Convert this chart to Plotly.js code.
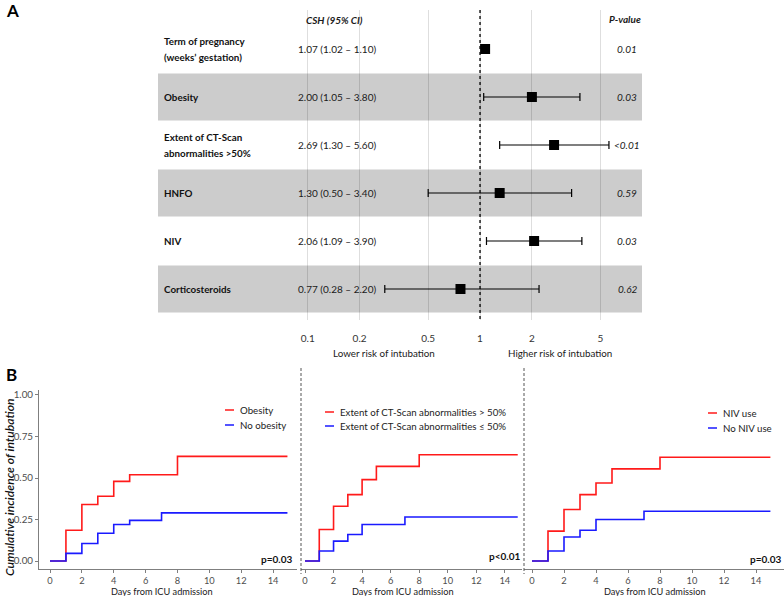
<!DOCTYPE html>
<html>
<head>
<meta charset="utf-8">
<script src="https://cdn.plot.ly/plotly-3.0.1.min.js"></script>
<style>html,body{margin:0;padding:0;background:#fff;}#chart{width:784px;height:596px;}</style>
</head>
<body>
<div id="chart"></div>
<script>
// ---------- Panel A data ----------
const rowLabels = ["Term of pregnancy<br>(weeks’ gestation)", "Obesity", "Extent of CT-Scan<br>abnormalities >50%", "HNFO", "NIV", "Corticosteroids"];
const hr = [1.07, 2.00, 2.69, 1.30, 2.06, 0.77];
const ciLow = [1.02, 1.05, 1.30, 0.50, 1.09, 0.28];
const ciHigh = [1.10, 3.80, 5.60, 3.40, 3.90, 2.20];
const pValues = ["0.01", "0.03", "<0.01", "0.59", "0.03", "0.62"];
const shadedRows = [1, 3, 5];
const forestTicks = [0.1, 0.2, 0.5, 1, 2, 5];

// ---------- Panel B data ----------
const obesityDays = [0, 1, 2, 3, 4, 5, 8, 14.9];
const obesityInc = [0, 0.185, 0.34, 0.39, 0.48, 0.52, 0.63, 0.63];
const noObesityDays = [0, 1, 2, 3, 4, 5, 7, 14.9];
const noObesityInc = [0, 0.046, 0.106, 0.167, 0.22, 0.245, 0.29, 0.29];

const ctHighDays = [0, 1, 2, 3, 4, 5, 8, 14.9];
const ctHighInc = [0, 0.19, 0.33, 0.40, 0.49, 0.57, 0.64, 0.64];
const ctLowDays = [0, 1, 2, 3, 4, 7, 14.9];
const ctLowInc = [0, 0.06, 0.12, 0.16, 0.22, 0.265, 0.265];

const nivDays = [0, 1, 2, 3, 4, 5, 8, 14.9];
const nivInc = [0, 0.18, 0.31, 0.40, 0.47, 0.555, 0.625, 0.625];
const noNivDays = [0, 1, 2, 3, 4, 7, 14.9];
const noNivInc = [0, 0.06, 0.145, 0.185, 0.25, 0.30, 0.30];

const panelLegends = [
  ["Obesity", "No obesity"],
  ["Extent of CT-Scan abnormalities > 50%", "Extent of CT-Scan abnormalities ≤ 50%"],
  ["NIV use", "No NIV use"]
];
const panelP = ["p=0.03", "p<0.01", "p=0.03"];
const dayTicks = [0, 2, 4, 6, 8, 10, 12, 14];
const incTicks = [0, 0.25, 0.5, 0.75, 1];

// ---------- helpers ----------
const W = 784, H = 596;
const px = x => x / W;
const py = y => 1 - y / H;
const escPart = t => t.replace(/&/g, "&amp;").replace(/</g, "&lt;").replace(/>/g, "&gt;");
const esc = s => s.split("<br>").map(escPart).join("<br>");
const FONT = "Lato, 'Open Sans', sans-serif";
const RED = "#ff1a1a", BLUE = "#1a1aff";
const TXT = "#1a1a1a";
const fmt = v => v.toFixed(2);

const traces = [];
// dotted null line
traces.push({x: [1, 1], y: [-0.81, 5.65], xaxis: "x", yaxis: "y", mode: "lines",
  line: {color: "#000", width: 1.3, dash: "dot"}, hoverinfo: "skip", showlegend: false});
// forest points
traces.push({
  x: hr, y: hr.map((_, i) => i), xaxis: "x", yaxis: "y", mode: "markers",
  marker: {symbol: "square", size: 10, color: "#000"},
  error_x: {type: "data", symmetric: false,
    array: hr.map((v, i) => ciHigh[i] - v),
    arrayminus: hr.map((v, i) => v - ciLow[i]),
    color: "#000", thickness: 1.2, width: 4},
  showlegend: false, hoverinfo: "skip"
});

// step curves
const stepPanels = [
  [obesityDays, obesityInc, noObesityDays, noObesityInc, "x2", "y2"],
  [ctHighDays, ctHighInc, ctLowDays, ctLowInc, "x3", "y3"],
  [nivDays, nivInc, noNivDays, noNivInc, "x4", "y4"]
];
stepPanels.forEach(p => {
  traces.push({x: p[0], y: p[1], xaxis: p[4], yaxis: p[5], mode: "lines",
    line: {shape: "hv", color: RED, width: 1.6}, showlegend: false, hoverinfo: "skip"});
  traces.push({x: p[2], y: p[3], xaxis: p[4], yaxis: p[5], mode: "lines",
    line: {shape: "hv", color: BLUE, width: 1.6}, showlegend: false, hoverinfo: "skip"});
});

const shapes = [];
// shaded bands
shadedRows.forEach(r => shapes.push({type: "rect", xref: "paper", yref: "y",
  x0: px(158), x1: px(642), y0: r - 0.49, y1: r + 0.49,
  fillcolor: "#cccccc", line: {width: 0}, layer: "below"}));
// dashed separators
[301, 524].forEach(x => shapes.push({type: "line", xref: "paper", yref: "paper",
  x0: px(x), x1: px(x), y0: py(368), y1: py(574),
  line: {color: "#555", width: 1, dash: "3px,2px"}}));

const annotations = [];
const ann = (o) => annotations.push(Object.assign({showarrow: false, xref: "paper", yref: "paper",
  font: {family: FONT, size: 10, color: TXT}}, o));

// panel letters
ann({x: px(4), y: py(10), text: "<b>A</b>", xanchor: "left", yanchor: "middle", font: {family: FONT, size: 17, color: "#000"}});
ann({x: px(4), y: py(374), text: "<b>B</b>", xanchor: "left", yanchor: "middle", font: {family: FONT, size: 17, color: "#000"}});

// headers
ann({x: px(334), y: py(20), text: "<b><i>CSH (95% CI)</i></b>", xanchor: "center", yanchor: "middle", font: {family: FONT, size: 10, color: TXT}});
ann({x: px(625), y: py(19), text: "<b><i>P-value</i></b>", xanchor: "center", yanchor: "middle", font: {family: FONT, size: 10, color: TXT}});

// rows
const lineGap = 0.33; // row units between the two lines of a wrapped label
rowLabels.forEach((lab, i) => {
  const parts = lab.split("<br>");
  parts.forEach((part, j) => {
    const off = (j - (parts.length - 1) / 2) * lineGap;
    annotations.push({showarrow: false, xref: "paper", yref: "y", x: px(162), y: i + off,
      text: "<b>" + escPart(part) + "</b>", xanchor: "left", yanchor: "middle", align: "left",
      font: {family: FONT, size: 9.8, color: "#111"}});
  });
  annotations.push({showarrow: false, xref: "paper", yref: "y", x: px(296), y: i,
    text: fmt(hr[i]) + " (" + fmt(ciLow[i]) + " – " + fmt(ciHigh[i]) + ")", xanchor: "left", yanchor: "middle",
    font: {family: FONT, size: 10, color: TXT}});
  annotations.push({showarrow: false, xref: "paper", yref: "y", x: px(627), y: i,
    text: "<i>" + esc(pValues[i]) + "</i>", xanchor: "center", yanchor: "middle",
    font: {family: FONT, size: 10, color: TXT}});
});

ann({x: px(384), y: py(353), text: "Lower risk of intubation", xanchor: "center", yanchor: "middle", font: {family: FONT, size: 9.8, color: TXT}});
ann({x: px(560), y: py(353), text: "Higher risk of intubation", xanchor: "center", yanchor: "middle", font: {family: FONT, size: 9.8, color: TXT}});

// panel B texts
ann({x: px(9), y: py(487), text: "<i>Cumulative incidence of intubation</i>", textangle: -90,
  xanchor: "center", yanchor: "middle", font: {family: FONT, size: 12.2, color: "#111", weight: 600}});
[162, 403, 655].forEach(c => ann({x: px(c), y: py(591), text: "Days from ICU admission",
  xanchor: "center", yanchor: "middle", font: {family: FONT, size: 9.2, color: TXT}}));

const legendPos = [[225, 410, 425], [325, 412, 426], [708, 413, 428]];
legendPos.forEach((lp, k) => {
  [RED, BLUE].forEach((col, j) => {
    const yy = lp[1 + j];
    shapes.push({type: "line", xref: "paper", yref: "paper", x0: px(lp[0]), x1: px(lp[0] + 9),
      y0: py(yy), y1: py(yy), line: {color: col, width: 1.5}});
    ann({x: px(lp[0] + 13), y: py(yy), text: esc(panelLegends[k][j]), xanchor: "left", yanchor: "middle",
      font: {family: FONT, size: 9.7, color: "#222"}});
  });
});
const pPos = [[294, 559], [522, 556], [783, 559]];
pPos.forEach((pp, k) => ann({x: px(pp[0]), y: py(pp[1]), text: "<b>" + esc(panelP[k]) + "</b>",
  xanchor: "right", yanchor: "middle", font: {family: FONT, size: 10, color: "#111"}}));

// axes
const yDomB = [py(569), py(390)];
const yRangeB = [-0.048, 1.03];
const xBase = {showline: true, linecolor: "#7f7f7f", linewidth: 1, ticks: "outside", ticklen: 3,
  tickcolor: "#7f7f7f", tickvals: dayTicks, showgrid: false, zeroline: false,
  tickfont: {family: FONT, size: 9.3, color: "#4d4d4d"}};

const layout = {
  width: W, height: H, margin: {l: 0, r: 0, t: 0, b: 0},
  paper_bgcolor: "#fff", plot_bgcolor: "rgba(0,0,0,0)",
  showlegend: false,
  xaxis: {type: "log", domain: [px(158), px(642)], range: [-1.869, 0.940], anchor: "y",
    tickvals: forestTicks, ticktext: forestTicks.map(String), showgrid: true,
    gridcolor: "rgba(0,0,0,0.13)", gridwidth: 1, zeroline: false, showline: false, ticks: "",
    ticklabelstandoff: 11, tickfont: {family: FONT, size: 10, color: "#333"}},
  yaxis: {domain: [py(320), py(10)], range: [5.646, -0.8125], anchor: "x",
    showgrid: false, zeroline: false, showticklabels: false, showline: false, ticks: ""},
  xaxis2: Object.assign({}, xBase, {domain: [px(39), px(297)], range: [-0.69, 15.5], anchor: "y2"}),
  yaxis2: {domain: yDomB, range: yRangeB, anchor: "x2", showline: true, linecolor: "#7f7f7f",
    ticks: "outside", ticklen: 3, tickcolor: "#7f7f7f", tickvals: incTicks, tickformat: ".2f",
    showgrid: false, zeroline: false, tickfont: {family: FONT, size: 9.8, color: "#4d4d4d"}},
  xaxis3: Object.assign({}, xBase, {domain: [px(301), px(522)], range: [-0.28, 15.2], anchor: "y3"}),
  yaxis3: {domain: yDomB, range: yRangeB, anchor: "x3", visible: false},
  xaxis4: Object.assign({}, xBase, {domain: [px(524), px(784)], range: [-0.5, 15.75], anchor: "y4"}),
  yaxis4: {domain: yDomB, range: yRangeB, anchor: "x4", visible: false},
  shapes: shapes,
  annotations: annotations
};

Plotly.newPlot("chart", traces, layout, {staticPlot: true, displayModeBar: false});
</script>
</body>
</html>
